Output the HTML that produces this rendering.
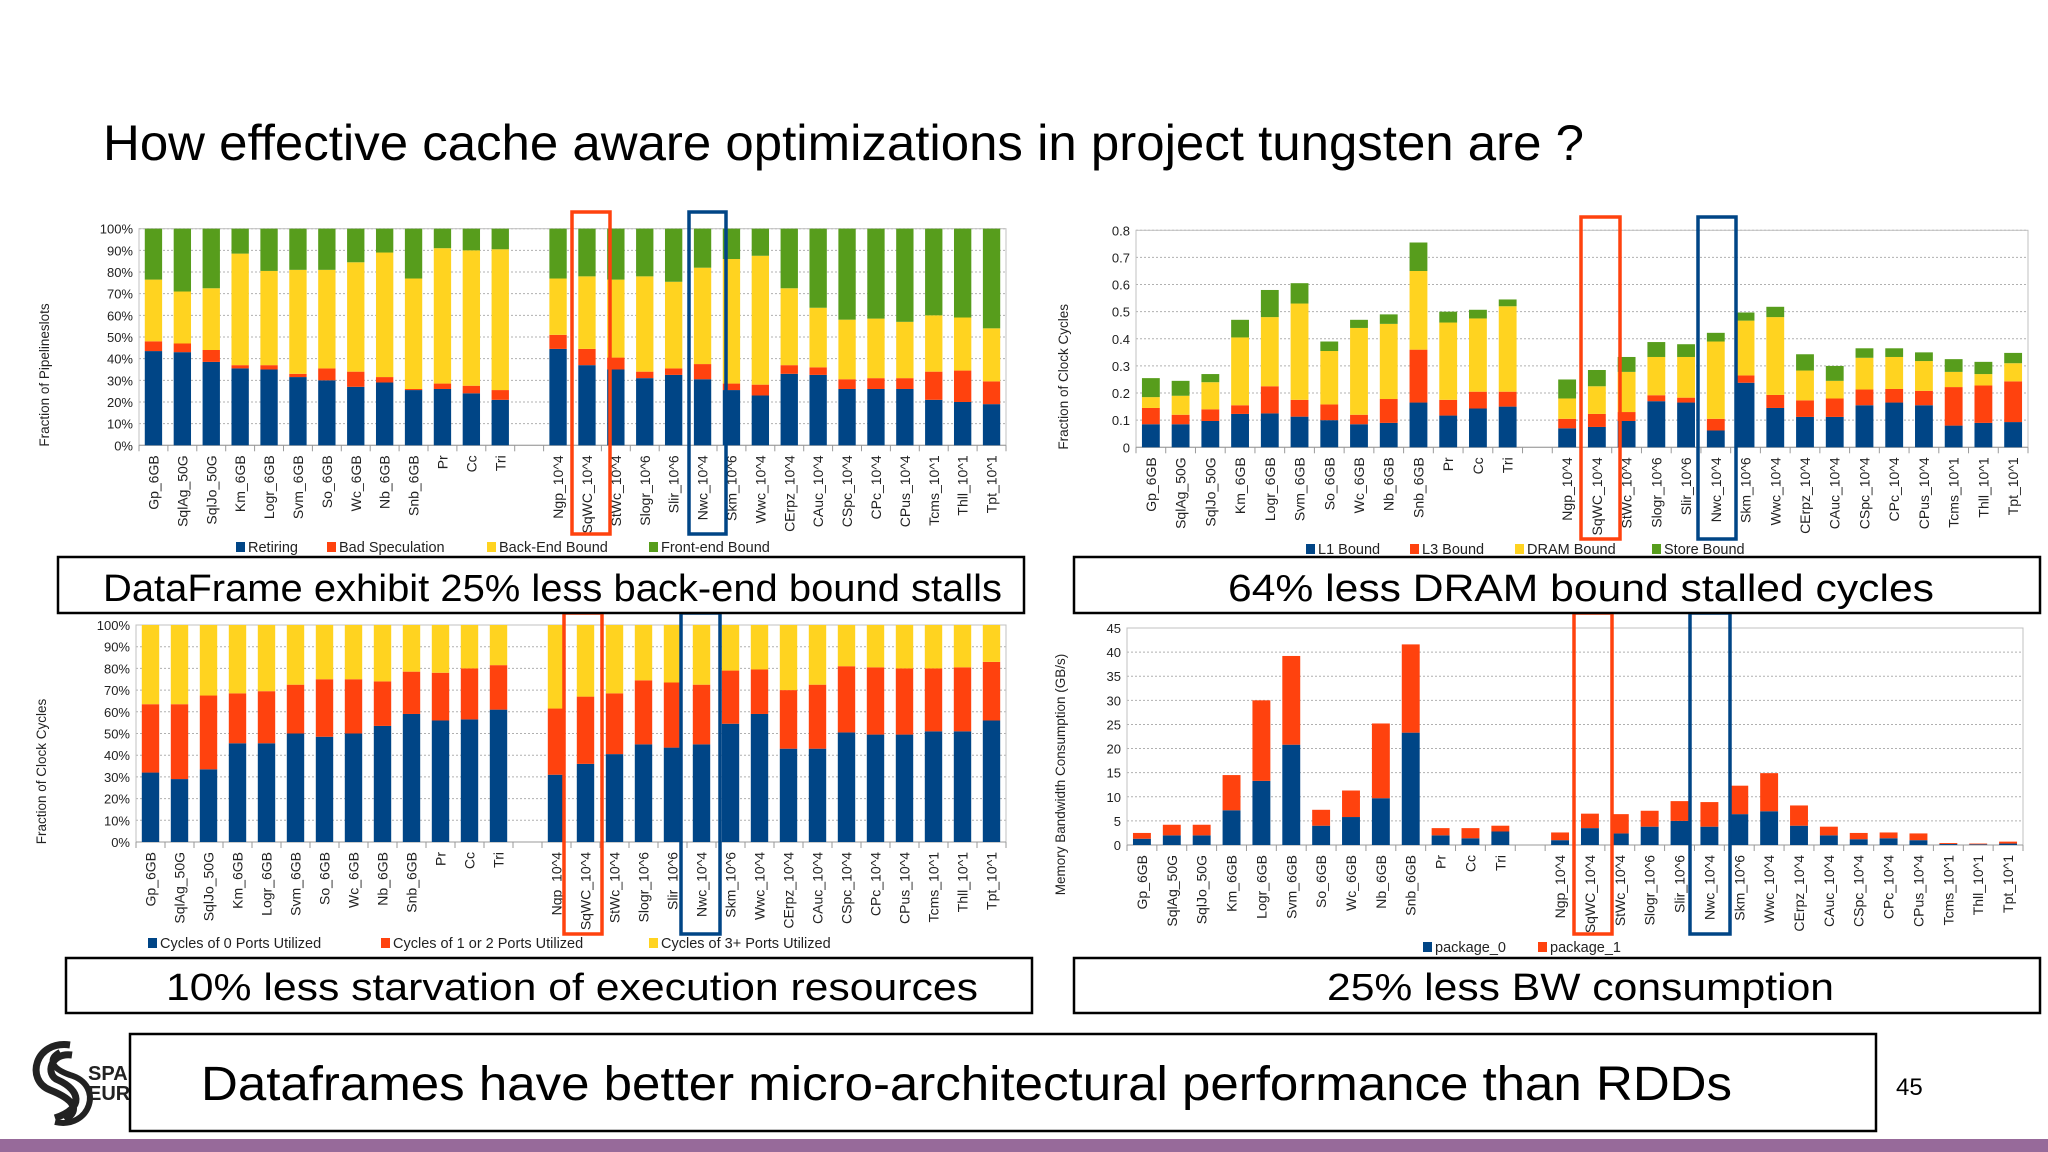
<!DOCTYPE html>
<html><head><meta charset="utf-8"><style>
html,body{margin:0;padding:0;background:#fff;}
svg{display:block;font-family:"Liberation Sans",sans-serif;}
</style></head><body>
<svg id="s" width="2048" height="1152" viewBox="0 0 2048 1152" xmlns="http://www.w3.org/2000/svg">
<rect width="2048" height="1152" fill="#fff"/>
<text x="103" y="160" font-size="50" textLength="1481" lengthAdjust="spacingAndGlyphs">How effective cache aware optimizations in project tungsten are ?</text>
<g id="charts"></g>
<g><rect x="58" y="557" width="966" height="56" fill="#fff" stroke="#000" stroke-width="2.5"/><text x="103" y="601" font-size="38" textLength="899" lengthAdjust="spacingAndGlyphs">DataFrame exhibit 25% less back-end bound stalls</text></g>
<g><rect x="1074" y="557" width="966" height="56" fill="#fff" stroke="#000" stroke-width="2.5"/><text x="1228" y="601" font-size="38" textLength="706" lengthAdjust="spacingAndGlyphs">64% less DRAM bound stalled cycles</text></g>
<g><rect x="66" y="958" width="966" height="55" fill="#fff" stroke="#000" stroke-width="2.5"/><text x="166" y="1000" font-size="38" textLength="812" lengthAdjust="spacingAndGlyphs">10% less starvation of execution resources</text></g>
<g><rect x="1074" y="958" width="966" height="55" fill="#fff" stroke="#000" stroke-width="2.5"/><text x="1327" y="1000" font-size="38" textLength="507" lengthAdjust="spacingAndGlyphs">25% less BW consumption</text></g>
<g>
<path d="M70 1045 C35 1040 25 1080 50 1090 C75 1100 80 1110 65 1120 M72 1055 C50 1052 45 1075 58 1080 C80 1090 85 1108 55 1118" fill="none" stroke="#222" stroke-width="7"/>
<path d="M55 1122 C90 1130 105 1085 70 1075 C50 1068 48 1058 60 1052" fill="none" stroke="#222" stroke-width="6"/>
<text x="88" y="1080" font-size="20" font-weight="bold" fill="#222">SPARK</text>
<text x="88" y="1100" font-size="20" font-weight="bold" fill="#222">EUROPE</text>
</g>
<g><rect x="130" y="1034" width="1746" height="97" fill="#fff" stroke="#000" stroke-width="2.5"/><text x="201" y="1100" font-size="48" textLength="1531" lengthAdjust="spacingAndGlyphs">Dataframes have better micro-architectural performance than RDDs</text></g>
<text x="1896" y="1095" font-size="24">45</text>
<rect x="0" y="1139" width="2048" height="13" fill="#976a9a"/>
</svg>
<script>
const categories = ["Gp_6GB","SqlAg_50G","SqlJo_50G","Km_6GB","Logr_6GB","Svm_6GB","So_6GB","Wc_6GB","Nb_6GB","Snb_6GB","Pr","Cc","Tri","","Ngp_10^4","SqWC_10^4","StWc_10^4","Slogr_10^6","Slir_10^6","Nwc_10^4","Skm_10^6","Wwc_10^4","CErpz_10^4","CAuc_10^4","CSpc_10^4","CPc_10^4","CPus_10^4","Tcms_10^1","Thll_10^1","Tpt_10^1"];
// Chart 1: pipeline slots (%)
const retiring = [43.5,43,38.5,35.5,35,31.5,30,27,29,25.5,26,24,21,0,44.5,37,35,31,32.5,30.5,25.5,23,33,32.5,26,26,26,21,20,19];
const badSpeculation = [4.5,4,5.5,1.5,2,1.5,5.5,7,2.5,0.5,2.5,3.5,4.5,0,6.5,7.5,5.5,3,3,7,3,5,4,3.5,4.5,5,5,13,14.5,10.5];
const backEndBound = [28.5,24,28.5,51.5,43.5,48,45.5,50.5,57.5,51,62.5,62.5,65,0,26,33.5,36,44,40,44.5,57.5,59.5,35.5,27.5,27.5,27.5,26,26,24.5,24.5];
const frontEndBound = [23.5,29,27.5,11.5,19.5,19,19,15.5,11,23,9,10,9.5,0,23,22,23.5,22,24.5,18,14,12.5,27.5,36.5,42,41.5,43,40,41,46];
// Chart 2: clock cycles fraction
const l1Bound = [.085,.085,.097,.123,.125,.113,.1,.085,.09,.165,.117,.143,.15,0,.07,.075,.097,.17,.165,.062,.238,.145,.112,.112,.155,.165,.155,.08,.09,.093];
const l3Bound = [.06,.035,.043,.032,.1,.062,.058,.035,.088,.195,.058,.062,.055,0,.035,.048,.033,.022,.018,.043,.027,.048,.061,.068,.058,.05,.053,.142,.138,.15];
const dramBound = [.04,.07,.1,.25,.255,.355,.197,.32,.277,.29,.285,.27,.315,0,.075,.102,.148,.141,.15,.285,.202,.287,.11,.065,.117,.118,.11,.056,.042,.067];
const storeBound = [.07,.055,.03,.065,.1,.075,.035,.03,.035,.105,.04,.032,.025,0,.07,.06,.055,.055,.047,.032,.03,.038,.06,.055,.035,.032,.032,.047,.045,.038];
// Chart 3: ports utilized (%)
const ports0 = [32,29,33.5,45.5,45.5,50,48.5,50,53.5,59,56,56.5,61,0,31,36,40.5,45,43.5,45,54.5,59,43,43,50.5,49.5,49.5,51,51,56];
const ports12 = [31.5,34.5,34,23,24,22.5,26.5,25,20.5,19.5,22,23.5,20.5,0,30.5,31,28,29.5,30,27.5,24.5,20.5,27,29.5,30.5,31,30.5,29,29.5,27];
const ports3 = [36.5,36.5,32.5,31.5,30.5,27.5,25,25,26,21.5,22,20,18.5,0,38.5,33,31.5,25.5,26.5,27.5,21,20.5,30,27.5,19,19.5,20,20,19.5,17];
// Chart 4: memory bandwidth (GB/s)
const package0 = [1.3,2,2,7.2,13.3,20.8,4,5.8,9.7,23.3,2,1.4,2.8,0,1,3.5,2.4,3.8,5,3.8,6.4,7,4,2,1.2,1.4,1,0.2,0.15,0.3];
const package1 = [1.2,2.2,2.2,7.3,16.7,18.4,3.3,5.5,15.5,18.3,1.5,2.1,1.2,0,1.6,3,4,3.3,4.1,5.1,5.9,7.9,4.2,1.8,1.3,1.2,1.4,0.2,0.15,0.4];
const pctTicks = ["0%","10%","20%","30%","40%","50%","60%","70%","80%","90%","100%"];
const fracTicks = ["0","0.1","0.2","0.3","0.4","0.5","0.6","0.7","0.8"];
const bwTicks = ["0","5","10","15","20","25","30","35","40","45"];

const NS="http://www.w3.org/2000/svg";
const root=document.getElementById('charts');
function mk(tag,attrs,parent){const e=document.createElementNS(NS,tag);for(const k in attrs)e.setAttribute(k,attrs[k]);(parent||root).appendChild(e);return e;}
const COLORS=["#004586","#ff420e","#ffd320","#579d1c"];

function chart(cfg){
  const g=mk('g',{});
  
  
  const n=categories.length, slot=(cfg.x1-cfg.x0)/n;
  const xs=i=>cfg.x0+slot*(i+0.5);
  const ys=v=>cfg.yb-(v/cfg.max)*(cfg.yb-cfg.yt);
  cfg.ticks.forEach((t,i)=>{
    const v=i*cfg.step, y=ys(v);
    if(i>0){const l=mk('line',{x1:cfg.x0,x2:cfg.x1,y1:y,y2:y,stroke:'#b0b0b0','stroke-dasharray':'2,2'},g);
      
      }
    const tx=mk('text',{x:cfg.x0-6,y:y+5,'font-size':13,'text-anchor':'end',fill:'#222'},g);tx.textContent=t;
    
    
  });
  mk('rect',{x:cfg.x0,y:cfg.yt,width:cfg.x1-cfg.x0,height:cfg.yb-cfg.yt,fill:'none',stroke:'#c0c0c0'},g);
  mk('line',{x1:cfg.x0,x2:cfg.x1,y1:cfg.yb,y2:cfg.yb,stroke:'#999'},g);
  for(let i=0;i<=n;i++){mk('line',{x1:cfg.x0+slot*i,x2:cfg.x0+slot*i,y1:cfg.yb,y2:cfg.yb+6,stroke:'#999'},g);}
  const bw=slot*0.6;
  categories.forEach((c,i)=>{
    let acc=0;
    cfg.series.forEach((s,k)=>{
      const v=s[i]; if(!v) {return;}
      const r=mk('rect',{x:xs(i)-bw/2,y:ys(acc+v),width:bw,height:ys(acc)-ys(acc+v),fill:COLORS[k]},g);
      
      
      acc+=v;
    });
    if(c){const t=mk('text',{x:0,y:0,'font-size':14,'text-anchor':'end',fill:'#222',transform:`translate(${xs(i)+5},${cfg.yb+10}) rotate(-90)`},g);t.textContent=c;
      
      }
  });
  const yt=mk('text',{x:0,y:0,'font-size':13.5,'text-anchor':'middle',fill:'#222',transform:`translate(${cfg.ytx},${(cfg.yt+cfg.yb)/2+38}) rotate(-90)`},g);yt.textContent=cfg.ytitle;
  
  
  cfg.labels.forEach((l,k)=>{
    const lg=mk('g',{},g);
    
    
    mk('rect',{x:cfg.lx[k],y:cfg.ly-10,width:9,height:10,fill:COLORS[k]},lg);
    const t=mk('text',{x:cfg.lx[k]+12,y:cfg.ly,'font-size':14.5,fill:'#222'},lg);t.textContent=l;
  });
  [[cfg.rb,'#ff420e','highlight-sqwc'],[cfg.bb,'#004586','highlight-nwc']].forEach(([b,col,nm])=>{
    const r=mk('rect',{x:b[0],y:cfg.hy0,width:b[1]-b[0],height:cfg.hy1-cfg.hy0,fill:'none',stroke:col,'stroke-width':3.5},g);
    
    
  });
}
chart({name:'pipeline-slots-chart',x0:139,x1:1006,yt:228.7,yb:445.3,max:100,step:10,ticks:pctTicks,
  series:[retiring,badSpeculation,backEndBound,frontEndBound],labels:["Retiring","Bad Speculation","Back-End Bound","Front-end Bound"],
  lx:[236,327,487,649],ly:552,ytitle:"Fraction of Pipelineslots",ytx:49,rb:[572,610],bb:[689,726],hy0:212,hy1:534});
chart({name:'memory-bound-chart',x0:1136,x1:2028,yt:230.3,yb:447.3,max:0.8,step:0.1,ticks:fracTicks,
  series:[l1Bound,l3Bound,dramBound,storeBound],labels:["L1 Bound","L3 Bound","DRAM Bound","Store Bound"],
  lx:[1306,1410,1515,1652],ly:554,ytitle:"Fraction of Clock Cycles",ytx:1068,rb:[1581,1620],bb:[1698,1736],hy0:217,hy1:539});
chart({name:'ports-utilized-chart',x0:136,x1:1006,yt:625,yb:842,max:100,step:10,ticks:pctTicks,
  series:[ports0,ports12,ports3],labels:["Cycles of 0 Ports Utilized","Cycles of 1 or 2 Ports Utilized","Cycles of 3+ Ports Utilized"],
  lx:[148,381,649],ly:948,ytitle:"Fraction of Clock Cycles",ytx:46,rb:[564,602],bb:[681,720],hy0:613,hy1:934});
chart({name:'memory-bandwidth-chart',x0:1127,x1:2023,yt:628,yb:845,max:45,step:5,ticks:bwTicks,
  series:[package0,package1],labels:["package_0","package_1"],
  lx:[1423,1538],ly:952,ytitle:"Memory Bandwidth Consumption (GB/s)",ytx:1065,rb:[1574,1612],bb:[1690,1730],hy0:613,hy1:934});
</script>
</body></html>
